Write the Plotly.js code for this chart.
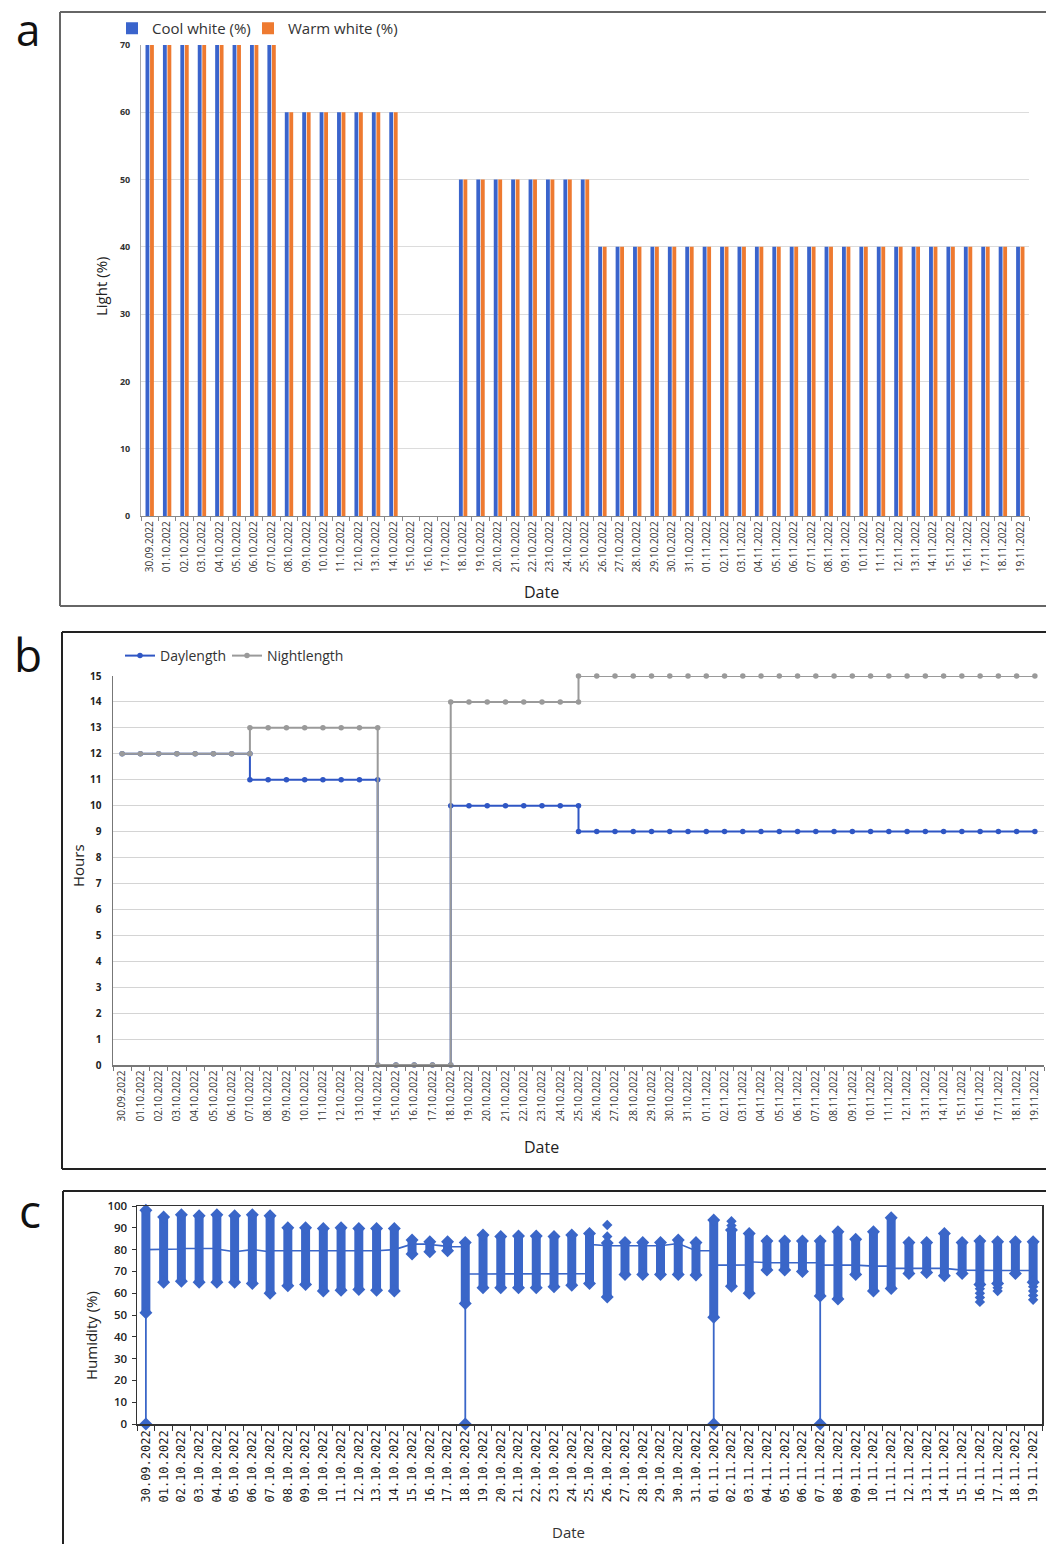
<!DOCTYPE html>
<html>
<head>
<meta charset="utf-8">
<script src="https://cdn.plot.ly/plotly-3.0.1.min.js"></script>
<style>
html,body{margin:0;padding:0;background:#fff;}
#chart{width:1046px;height:1544px;}
</style>
</head>
<body>
<div id="chart"></div>
<script>
// ---------- DATA ----------
const dates = ['30.09.2022','01.10.2022','02.10.2022','03.10.2022','04.10.2022','05.10.2022','06.10.2022','07.10.2022','08.10.2022','09.10.2022','10.10.2022','11.10.2022','12.10.2022','13.10.2022','14.10.2022','15.10.2022','16.10.2022','17.10.2022','18.10.2022','19.10.2022','20.10.2022','21.10.2022','22.10.2022','23.10.2022','24.10.2022','25.10.2022','26.10.2022','27.10.2022','28.10.2022','29.10.2022','30.10.2022','31.10.2022','01.11.2022','02.11.2022','03.11.2022','04.11.2022','05.11.2022','06.11.2022','07.11.2022','08.11.2022','09.11.2022','10.11.2022','11.11.2022','12.11.2022','13.11.2022','14.11.2022','15.11.2022','16.11.2022','17.11.2022','18.11.2022','19.11.2022'];

// Panel a: light (%)
const coolWhite = [70,70,70,70,70,70,70,70, 60,60,60,60,60,60,60, 0,0,0, 50,50,50,50,50,50,50,50, 40,40,40,40,40,40,40,40,40,40,40,40,40,40,40,40,40,40,40,40,40,40,40,40,40];
const warmWhite = [70,70,70,70,70,70,70,70, 60,60,60,60,60,60,60, 0,0,0, 50,50,50,50,50,50,50,50, 40,40,40,40,40,40,40,40,40,40,40,40,40,40,40,40,40,40,40,40,40,40,40,40,40];

// Panel b: hours (value in force on each date; on step dates the previous value is also plotted)
const daylength   = [12,12,12,12,12,12,12, 11,11,11,11,11,11,11, 0,0,0,0, 10,10,10,10,10,10,10, 9,9,9,9,9,9,9,9,9,9,9,9,9,9,9,9,9,9,9,9,9,9,9,9,9,9];
const nightlength = [12,12,12,12,12,12,12, 13,13,13,13,13,13,13, 0,0,0,0, 14,14,14,14,14,14,14, 15,15,15,15,15,15,15,15,15,15,15,15,15,15,15,15,15,15,15,15,15,15,15,15,15,15];
const stepDates = ['07.10.2022','14.10.2022','18.10.2022','25.10.2022'];

// Panel c: humidity (%) per day
const humMin   = [51,65,65.5,65,65,65,64.5,60,63.4,64,61,61.3,61.7,61.4,61,78,79,79.5,55.3,62.5,62.5,62.5,62.5,63,63.7,64.5,58.3,68.6,68.6,68.6,68.6,68.3,49,63.2,60,70.6,70.6,70,58.7,57.3,68.6,61,62.2,69,69.5,68,69,64,64.5,69,65];
const humMax   = [98,95,96,95.5,96,95.5,96,95.5,90,90,89.7,90,89.7,89.7,89.7,84.4,83.6,83.6,83.3,86.7,86,86.2,86.2,86,86.7,87.4,83,83.3,83.3,83.3,84.4,83.3,93.6,89,87.4,84,84,84,84,88.2,84.7,88.2,94.6,83.3,83.3,87.4,83.3,84,83.6,83.6,83.6];
const humStart = [80,80,80.3,80.5,80.5,79,80,79,79.5,79.5,79.5,79.5,79.5,79.5,80,82.5,82.5,81.5,81.3,68.8,68.8,68.8,68.8,68.8,68.8,69,82,81.8,81.8,81.8,82.8,79.5,79.5,72.9,73,74,74,74,74,72.9,72.9,72.4,72.4,71.4,71.4,71.4,70.6,70.4,70.4,70.4,70.4];
const humEnd   = [80,80.3,80.5,80.5,80.2,79,80,79.5,79.5,79.5,79.5,79.5,79.5,79.5,80,82.5,82.3,81.3,68.8,68.8,68.8,68.8,68.8,68.8,68.8,82.4,81.8,81.8,81.8,81.8,82.8,79.5,72.9,72.9,74.4,74,74,74,72.9,72.9,72.9,72.4,71.4,71.4,71.4,71.4,70.6,70.4,70.4,70.4,70.4];
const zeroDates = ['30.09.2022','18.10.2022','01.11.2022','07.11.2022'];
const outlierDates = ['26.10.2022','26.10.2022','02.11.2022','02.11.2022','16.11.2022','16.11.2022','16.11.2022','16.11.2022','17.11.2022','17.11.2022','19.11.2022','19.11.2022','19.11.2022','19.11.2022'];
const outlierVals  = [86,91.3,91,93,62,60,58,56,62.5,61,63,61,59,57];

// ---------- BUILD ----------
const W = 1046, H = 1544;
const px = x => x / W;
const py = y => 1 - y / H;

const blueA = '#3a64cc', orangeA = '#ee7a30';
const blueB = '#2f56c4', grayB = '#9a9a9a';
const blueC = '#3a66c8';

function stepSeries(vals) {
  const xs = [], ys = [];
  dates.forEach((d, i) => {
    if (i > 0 && stepDates.includes(d)) { xs.push(d); ys.push(vals[i - 1]); }
    xs.push(d); ys.push(vals[i]);
  });
  return {xs, ys};
}
const dayS = stepSeries(daylength);
const nightS = stepSeries(nightlength);

// humidity ranges
const rx = [], ry = [];
dates.forEach((d, i) => { rx.push(d, d, null); ry.push(humMin[i], humMax[i], null); });
const lx = [], ly = [];
dates.forEach((d, i) => { lx.push(d, d); ly.push(humStart[i], humEnd[i]); });
const zx = [], zy = [];
zeroDates.forEach(d => { const i = dates.indexOf(d); zx.push(d, d, null); zy.push(0, humMin[i], null); });

const traces = [
  {type:'bar', name:'Cool white (%)', x:dates, y:coolWhite, marker:{color:blueA}, xaxis:'x', yaxis:'y', legend:'legend'},
  {type:'bar', name:'Warm white (%)', x:dates, y:warmWhite, marker:{color:orangeA}, xaxis:'x', yaxis:'y', legend:'legend3'},
  {type:'scatter', mode:'lines+markers', name:'Daylength', x:dayS.xs, y:dayS.ys, line:{color:blueB, width:2}, marker:{color:blueB, size:5.5}, xaxis:'x2', yaxis:'y2', legend:'legend2', cliponaxis:false},
  {type:'scatter', mode:'lines+markers', name:'Nightlength', x:nightS.xs, y:nightS.ys, line:{color:grayB, width:2}, marker:{color:grayB, size:5.5}, xaxis:'x2', yaxis:'y2', legend:'legend4', cliponaxis:false},
  {type:'scatter', mode:'lines', x:lx, y:ly, line:{color:blueC, width:1.6}, xaxis:'x3', yaxis:'y3', showlegend:false, hoverinfo:'skip'},
  {type:'scatter', mode:'lines', x:zx, y:zy, line:{color:blueC, width:1.8}, xaxis:'x3', yaxis:'y3', showlegend:false, connectgaps:false},
  {type:'scatter', mode:'lines+markers', x:rx, y:ry, line:{color:blueC, width:9}, marker:{symbol:'diamond', size:10, color:blueC}, xaxis:'x3', yaxis:'y3', showlegend:false, connectgaps:false, cliponaxis:false},
  {type:'scatter', mode:'markers', x:outlierDates, y:outlierVals, marker:{symbol:'diamond', size:8, color:blueC}, xaxis:'x3', yaxis:'y3', showlegend:false},
  {type:'scatter', mode:'markers', x:zeroDates, y:zeroDates.map(() => 0), marker:{symbol:'diamond', size:10, color:blueC}, xaxis:'x3', yaxis:'y3', showlegend:false, cliponaxis:false}
];

const tickFontA = {family:'Open Sans, sans-serif', size:10, color:'#333'};
const baseX = {
  type:'category', categoryorder:'array', categoryarray:dates, range:[-0.5, dates.length - 0.5],
  tickson:'boundaries', ticks:'outside', ticklen:4, tickangle:-90, showgrid:false, zeroline:false,
  fixedrange:true, automargin:false
};
const legFont = {family:'Open Sans, sans-serif', size:15, color:'#333'};
function leg(x, y, size) {
  return {orientation:'h', x:px(x), y:py(y), xanchor:'left', yanchor:'top', bgcolor:'rgba(0,0,0,0)',
          font:Object.assign({}, legFont, {size:size}), itemwidth:30};
}

const layout = {
  width:W, height:H, margin:{l:0, r:0, t:0, b:0}, paper_bgcolor:'#fff', plot_bgcolor:'rgba(0,0,0,0)',
  showlegend:true, bargap:0.48, bargroupgap:0.15, barmode:'group',
  xaxis: Object.assign({}, baseX, {anchor:'y', domain:[px(141), px(1029)], showline:true, linecolor:'#888', linewidth:1.2, tickcolor:'#888', tickfont:tickFontA}),
  yaxis: {anchor:'x', domain:[py(516), py(45)], range:[0,70], dtick:10, showgrid:true, gridcolor:'#dcdcdc', gridwidth:1, zeroline:false,
          showline:true, linecolor:'#aaa', linewidth:1, ticks:'', ticklabelstandoff:8,
          tickfont:{family:'Open Sans, sans-serif', size:9, color:'#333', weight:700}, fixedrange:true},
  xaxis2: Object.assign({}, baseX, {anchor:'y2', domain:[px(113), px(1044)], showline:true, linecolor:'#777', linewidth:1.5, tickcolor:'#777', tickfont:tickFontA}),
  yaxis2: {anchor:'x2', domain:[py(1065), py(676)], range:[0,15], dtick:1, showgrid:true, gridcolor:'#d4d4d4', gridwidth:1, zeroline:false,
          showline:true, linecolor:'#777', linewidth:1.5, ticks:'', ticklabelstandoff:8,
          tickfont:{family:'Open Sans, sans-serif', size:10, color:'#222', weight:700}, fixedrange:true},
  xaxis3: Object.assign({}, baseX, {anchor:'y3', domain:[px(137), px(1042)], showline:true, mirror:true, linecolor:'#333', linewidth:1.5, tickcolor:'#333', ticklen:5,
          tickfont:{family:'DejaVu Sans Mono, monospace', size:12, color:'#1a1a1a'}}),
  yaxis3: {anchor:'x3', domain:[py(1424), py(1206)], range:[0,100], dtick:10, showgrid:false, zeroline:false,
          showline:true, mirror:true, linecolor:'#333', linewidth:1.5, ticks:'outside', ticklen:4, tickcolor:'#333', ticklabelstandoff:2,
          tickfont:{family:'Open Sans, sans-serif', size:11.5, color:'#222', weight:600}, fixedrange:true},
  legend:  leg(112, 12, 15),
  legend3: leg(248, 12, 15),
  legend2: leg(120, 640, 14),
  legend4: leg(227, 640, 14),
  shapes: [
    {type:'line', xref:'paper', yref:'paper', x0:px(60), x1:px(60), y0:py(606), y1:py(12), line:{color:'#666', width:2}},
    {type:'line', xref:'paper', yref:'paper', x0:px(60), x1:1, y0:py(12), y1:py(12), line:{color:'#666', width:2}},
    {type:'line', xref:'paper', yref:'paper', x0:px(60), x1:1, y0:py(606), y1:py(606), line:{color:'#666', width:2}},
    {type:'line', xref:'paper', yref:'paper', x0:px(62), x1:px(62), y0:py(1169), y1:py(632), line:{color:'#222', width:2}},
    {type:'line', xref:'paper', yref:'paper', x0:px(62), x1:1, y0:py(632), y1:py(632), line:{color:'#222', width:2}},
    {type:'line', xref:'paper', yref:'paper', x0:px(62), x1:1, y0:py(1169), y1:py(1169), line:{color:'#222', width:2}},
    {type:'line', xref:'paper', yref:'paper', x0:px(63), x1:px(63), y0:0, y1:py(1191), line:{color:'#222', width:2}},
    {type:'line', xref:'paper', yref:'paper', x0:px(63), x1:1, y0:py(1191), y1:py(1191), line:{color:'#222', width:2}}
  ],
  annotations: [
    {text:'a', xref:'paper', yref:'paper', x:px(28), y:py(29), xanchor:'center', yanchor:'middle', showarrow:false, font:{family:'Open Sans, sans-serif', size:44, color:'#111'}},
    {text:'b', xref:'paper', yref:'paper', x:px(28), y:py(654), xanchor:'center', yanchor:'middle', showarrow:false, font:{family:'Open Sans, sans-serif', size:46, color:'#111'}},
    {text:'c', xref:'paper', yref:'paper', x:px(30), y:py(1210), xanchor:'center', yanchor:'middle', showarrow:false, font:{family:'Open Sans, sans-serif', size:46, color:'#111'}},
    {text:'Light (%)', xref:'paper', yref:'paper', x:px(101), y:py(287), textangle:-90, showarrow:false, xanchor:'center', yanchor:'middle', font:{family:'Open Sans, sans-serif', size:15, color:'#222'}},
    {text:'Date', xref:'paper', yref:'paper', x:px(541), y:py(592), showarrow:false, xanchor:'center', yanchor:'middle', font:{family:'Open Sans, sans-serif', size:16, color:'#222'}},
    {text:'Hours', xref:'paper', yref:'paper', x:px(78), y:py(866), textangle:-90, showarrow:false, xanchor:'center', yanchor:'middle', font:{family:'Open Sans, sans-serif', size:15, color:'#222'}},
    {text:'Date', xref:'paper', yref:'paper', x:px(541), y:py(1147), showarrow:false, xanchor:'center', yanchor:'middle', font:{family:'Open Sans, sans-serif', size:16, color:'#222'}},
    {text:'Humidity (%)', xref:'paper', yref:'paper', x:px(91), y:py(1336), textangle:-90, showarrow:false, xanchor:'center', yanchor:'middle', font:{family:'Open Sans, sans-serif', size:15, color:'#222'}},
    {text:'Date', xref:'paper', yref:'paper', x:px(568), y:py(1532), showarrow:false, xanchor:'center', yanchor:'middle', font:{family:'Open Sans, sans-serif', size:15, color:'#333'}}
  ]
};

Plotly.newPlot('chart', traces, layout, {staticPlot:true, displayModeBar:false});
</script>
</body>
</html>
